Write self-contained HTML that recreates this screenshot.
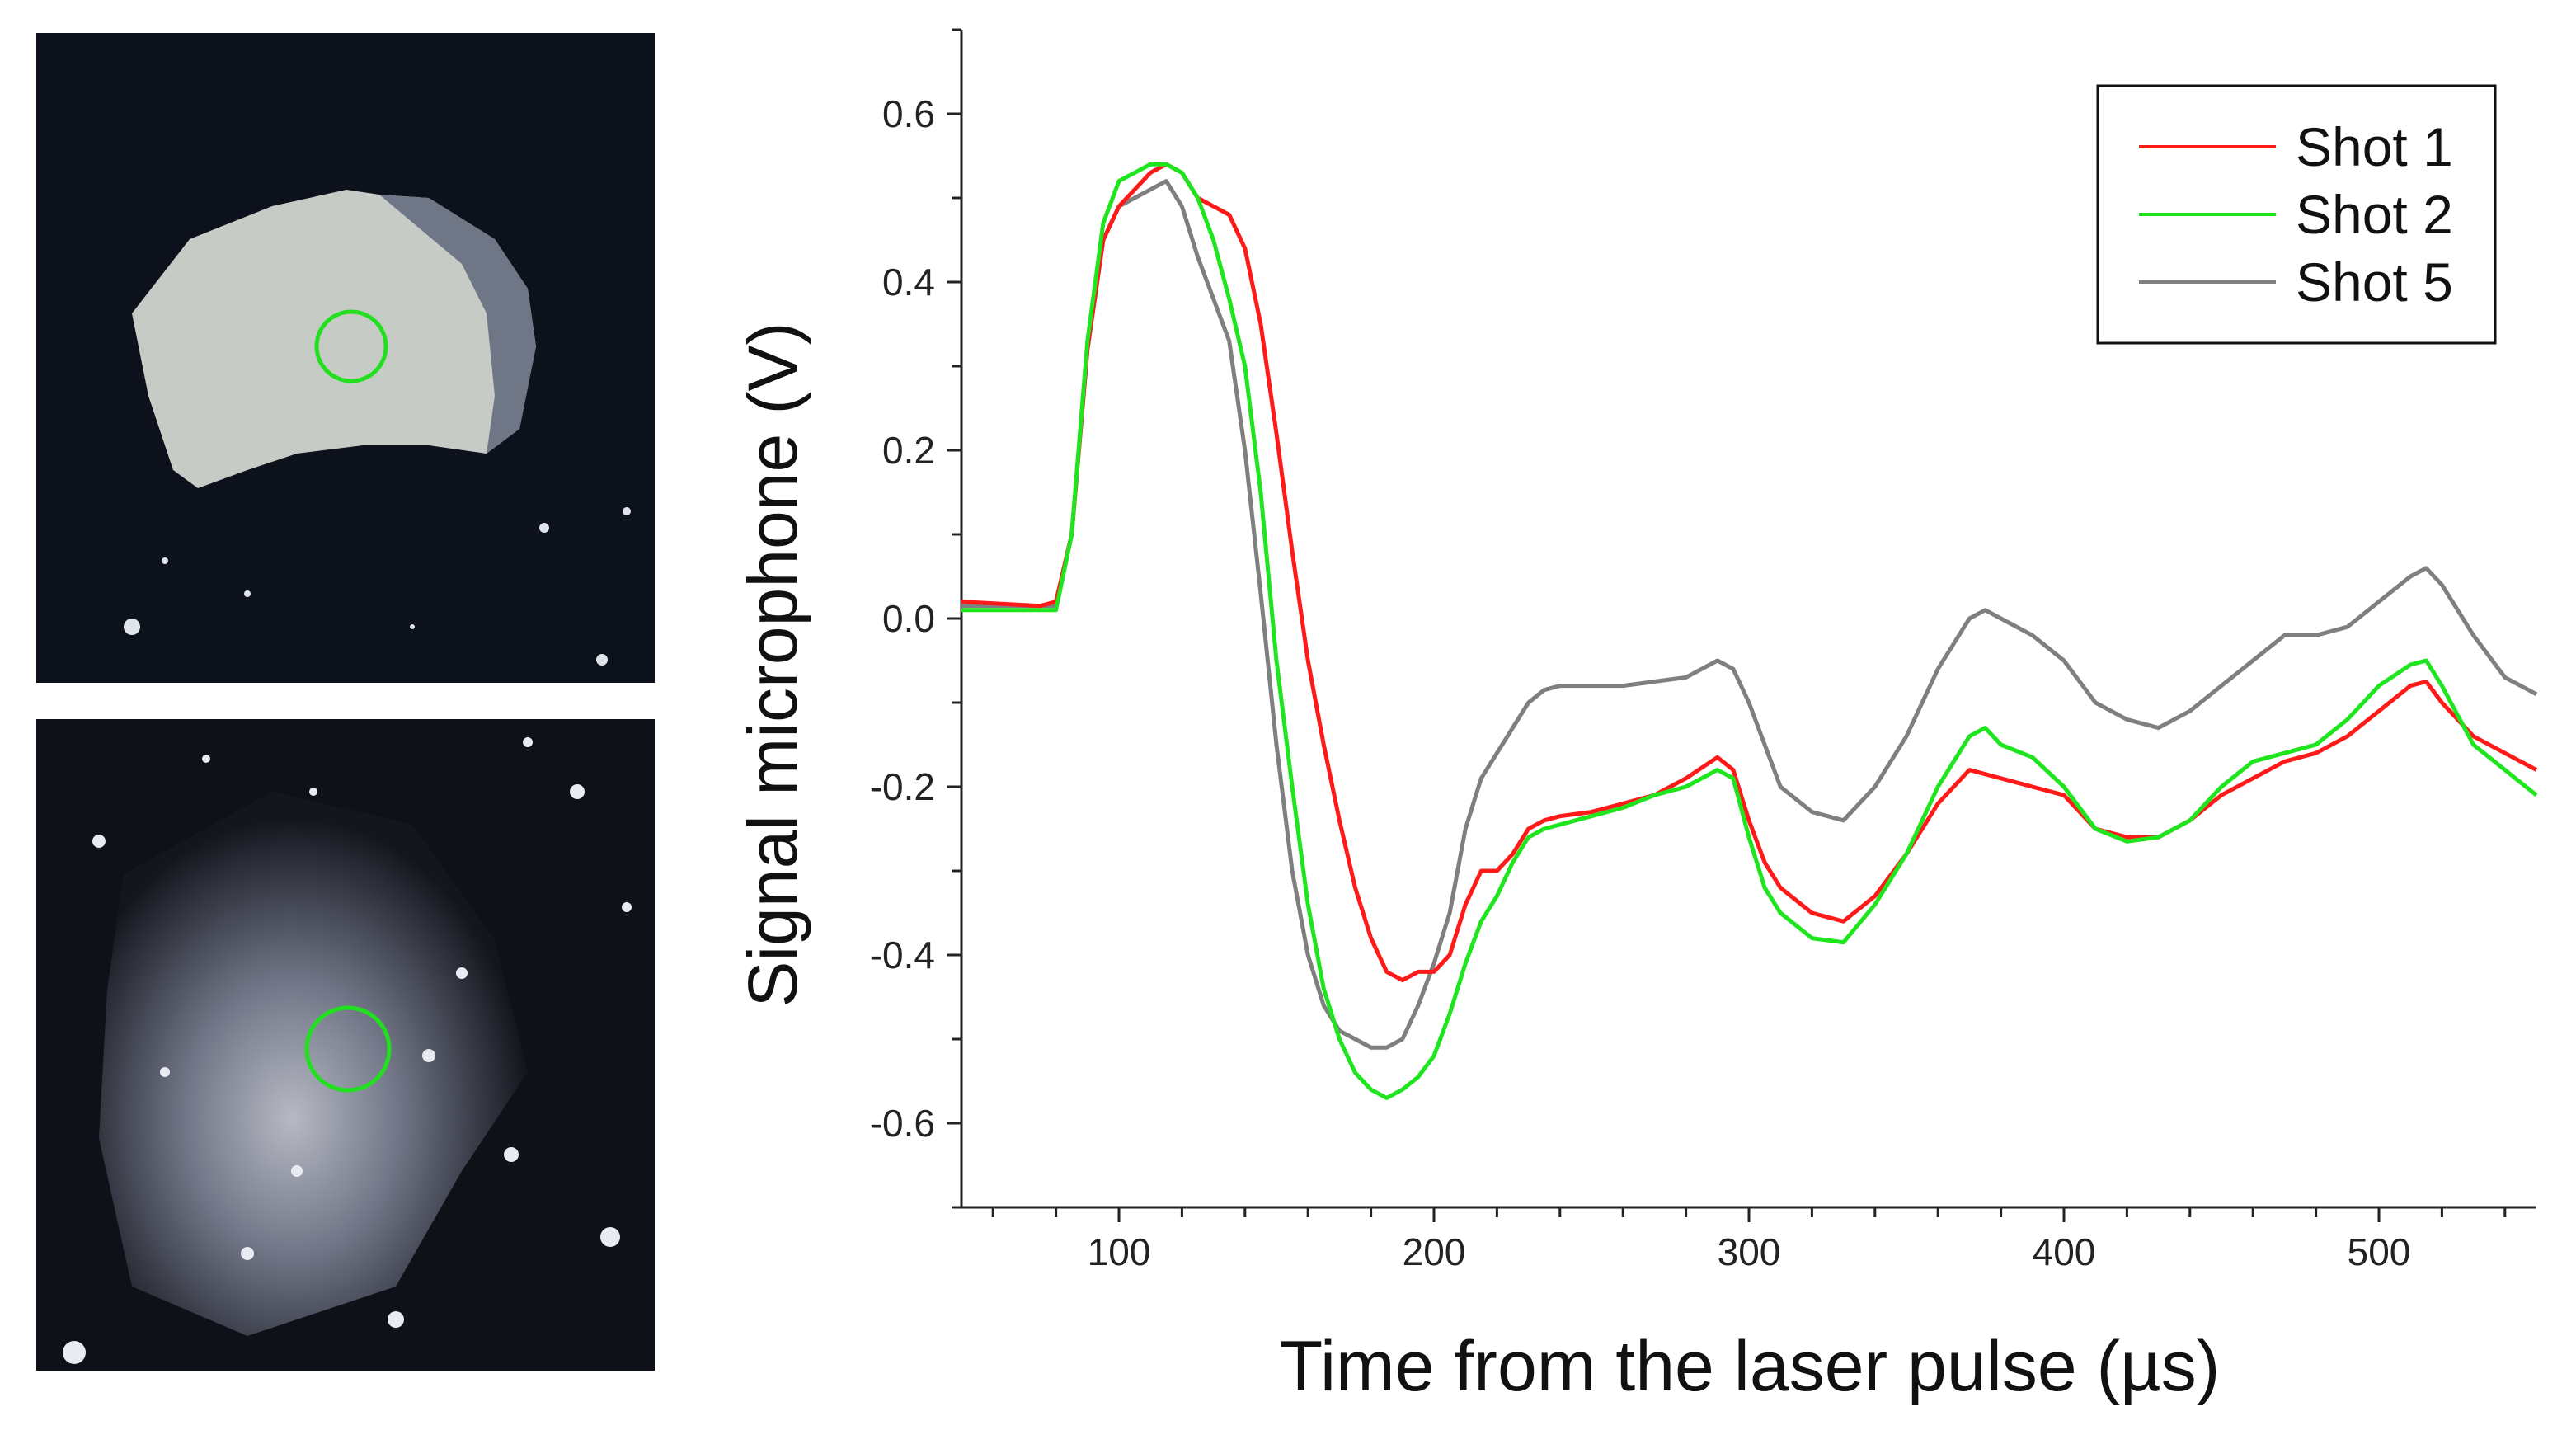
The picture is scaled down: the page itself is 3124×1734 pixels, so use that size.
<!DOCTYPE html>
<html><head><meta charset="utf-8"><style>
html,body{margin:0;padding:0;background:#fff;}
svg{display:block;font-family:"Liberation Sans",Arial,sans-serif;}
</style></head><body>
<svg id="fig" width="3124" height="1734" viewBox="0 0 3124 1734" xmlns="http://www.w3.org/2000/svg">
<defs>
<radialGradient id="spray" cx="0.45" cy="0.6" r="0.55">
<stop offset="0" stop-color="#c9ccd6"/><stop offset="0.45" stop-color="#7d8294"/><stop offset="1" stop-color="#15171f"/>
</radialGradient>
</defs>
<g>
<rect x="44" y="40" width="750" height="788" fill="#0d111c"/>
<path d="M160 380 L230 290 L330 250 L420 230 L460 236 L520 240 L600 290 L640 350 L650 420 L630 520 L590 550 L520 540 L440 540 L360 550 L300 570 L240 592 L210 570 L180 480 Z" fill="#c7cbc6"/>
<path d="M460 236 L520 240 L600 290 L640 350 L650 420 L630 520 L590 550 L600 480 L590 380 L560 320 Z" fill="#6f7686"/>
<g fill="#dfe3ea"><circle cx="160" cy="760" r="10"/><circle cx="660" cy="640" r="6"/><circle cx="730" cy="800" r="7"/><circle cx="300" cy="720" r="4"/><circle cx="760" cy="620" r="5"/><circle cx="200" cy="680" r="4"/><circle cx="500" cy="760" r="3"/></g>
<circle cx="426" cy="420" r="42" fill="none" stroke="#22e01f" stroke-width="5"/>
</g>
<g>
<rect x="44" y="872" width="750" height="790" fill="#0f1118"/>
<path d="M150 1060 L330 960 L500 1000 L600 1140 L640 1300 L560 1420 L480 1560 L300 1620 L160 1560 L120 1380 L130 1200 Z" fill="url(#spray)" opacity="0.9"/>
<g fill="#e8ebf2"><circle cx="120" cy="1020" r="8"/><circle cx="700" cy="960" r="9"/><circle cx="740" cy="1500" r="12"/><circle cx="480" cy="1600" r="10"/><circle cx="90" cy="1640" r="14"/><circle cx="620" cy="1400" r="9"/><circle cx="200" cy="1300" r="6"/><circle cx="560" cy="1180" r="7"/><circle cx="300" cy="1520" r="8"/><circle cx="760" cy="1100" r="6"/><circle cx="380" cy="960" r="5"/><circle cx="250" cy="920" r="5"/><circle cx="640" cy="900" r="6"/><circle cx="520" cy="1280" r="8"/><circle cx="360" cy="1420" r="7"/></g>
<circle cx="422" cy="1272" r="50" fill="none" stroke="#22e01f" stroke-width="5"/>
</g>
<g id="chart"></g>
</svg>
<script>
const xs=[50,75,80,85,90,95,100,105,110,115,120,125,130,135,140,145,150,155,160,165,170,175,180,185,190,195,200,205,210,215,220,225,230,235,240,250,260,270,280,290,295,300,305,310,320,330,340,350,360,370,375,380,390,400,410,420,430,440,450,460,470,480,490,500,510,515,520,530,540,550];
const shot1=[0.02,0.015,0.02,0.1,0.32,0.45,0.49,0.51,0.53,0.54,0.53,0.5,0.49,0.48,0.44,0.35,0.22,0.08,-0.05,-0.15,-0.24,-0.32,-0.38,-0.42,-0.43,-0.42,-0.42,-0.4,-0.34,-0.3,-0.3,-0.28,-0.25,-0.24,-0.235,-0.23,-0.22,-0.21,-0.19,-0.165,-0.18,-0.24,-0.29,-0.32,-0.35,-0.36,-0.33,-0.28,-0.22,-0.18,-0.185,-0.19,-0.2,-0.21,-0.25,-0.26,-0.26,-0.24,-0.21,-0.19,-0.17,-0.16,-0.14,-0.11,-0.08,-0.075,-0.1,-0.14,-0.16,-0.18];
const shot2=[0.01,0.01,0.01,0.1,0.33,0.47,0.52,0.53,0.54,0.54,0.53,0.5,0.45,0.38,0.3,0.15,-0.05,-0.2,-0.34,-0.44,-0.5,-0.54,-0.56,-0.57,-0.56,-0.545,-0.52,-0.47,-0.41,-0.36,-0.33,-0.29,-0.26,-0.25,-0.245,-0.235,-0.225,-0.21,-0.2,-0.18,-0.19,-0.26,-0.32,-0.35,-0.38,-0.385,-0.34,-0.28,-0.2,-0.14,-0.13,-0.15,-0.165,-0.2,-0.25,-0.265,-0.26,-0.24,-0.2,-0.17,-0.16,-0.15,-0.12,-0.08,-0.055,-0.05,-0.08,-0.15,-0.18,-0.21];
const shot5=[0.015,0.015,0.015,0.1,0.32,0.45,0.49,0.5,0.51,0.52,0.49,0.43,0.38,0.33,0.2,0.03,-0.15,-0.3,-0.4,-0.46,-0.49,-0.5,-0.51,-0.51,-0.5,-0.46,-0.41,-0.35,-0.25,-0.19,-0.16,-0.13,-0.1,-0.085,-0.08,-0.08,-0.08,-0.075,-0.07,-0.05,-0.06,-0.1,-0.15,-0.2,-0.23,-0.24,-0.2,-0.14,-0.06,0.0,0.01,0.0,-0.02,-0.05,-0.1,-0.12,-0.13,-0.11,-0.08,-0.05,-0.02,-0.02,-0.01,0.02,0.05,0.06,0.04,-0.02,-0.07,-0.09];
const xTickLabels=[100,200,300,400,500];
const yTickLabels=[0.6,0.4,0.2,0.0,-0.2,-0.4,-0.6];
const seriesNames=["Shot 1","Shot 2","Shot 5"];
const seriesColors=["#ff1a1a","#1fe51f","#7f7f7f"];

const L=1166,R=3076,T=36,B=1464,X0=50,X1=550,Y0=-0.7,Y1=0.7;
const sx=v=>L+(v-X0)/(X1-X0)*(R-L);
const sy=v=>B-(v-Y0)/(Y1-Y0)*(B-T);
const NS="http://www.w3.org/2000/svg";
const g=document.getElementById('chart');
function mk(t,a,p){const e=document.createElementNS(NS,t);for(const k in a)e.setAttribute(k,a[k]);(p||g).appendChild(e);return e;}

const ya=mk('line',{x1:L,y1:T,x2:L,y2:B,stroke:'#222','stroke-width':3});


const xa=mk('line',{x1:L,y1:B,x2:R,y2:B,stroke:'#222','stroke-width':3});



for(let v=60;v<=X1;v+=20){const maj=v%100===0;mk('line',{x1:sx(v),y1:B,x2:sx(v),y2:B+(maj?18:12),stroke:'#222','stroke-width':3});}
xTickLabels.forEach(v=>{const t=mk('text',{x:sx(v),y:B+70,'text-anchor':'middle','font-size':46,fill:'#222'});t.textContent=v;

});
for(let i=-7;i<=7;i++){const v=i/10;const maj=i%2===0;mk('line',{x1:L,y1:sy(v),x2:L-(maj?18:12),y2:sy(v),stroke:'#222','stroke-width':3});}
yTickLabels.forEach(v=>{const t=mk('text',{x:L-32,y:sy(v)+16,'text-anchor':'end','font-size':46,fill:'#222'});t.textContent=v.toFixed(1);

});

const xt=mk('text',{x:2122,y:1686,'text-anchor':'middle','font-size':86,fill:'#111'});xt.textContent='Time from the laser pulse (µs)';


const yt=mk('text',{x:0,y:0,'text-anchor':'middle','font-size':84,fill:'#111',transform:'translate(966,806) rotate(-90)'});yt.textContent='Signal microphone (V)';



[shot5,shot1,shot2].forEach((s,k)=>{
 const idx=[2,0,1][k];
 const d=xs.map((x,i)=>(i?'L':'M')+sx(x).toFixed(1)+' '+sy(s[i]).toFixed(1)).join(' ');
 const p=mk('path',{d:d,fill:'none',stroke:seriesColors[idx],'stroke-width':5,'stroke-linejoin':'round'});
 
 
});

const lg=mk('g',{});


mk('rect',{x:2544,y:104,width:482,height:312,fill:'#fff',stroke:'#111','stroke-width':3},lg);
seriesNames.forEach((n,i)=>{
 const y=178+i*82;
 mk('line',{x1:2594,y1:y,x2:2760,y2:y,stroke:seriesColors[i],'stroke-width':4},lg);
 const t=mk('text',{x:2784,y:y+23,'font-size':66,fill:'#111'},lg);t.textContent=n;
 
 
});
</script>
</body></html>
